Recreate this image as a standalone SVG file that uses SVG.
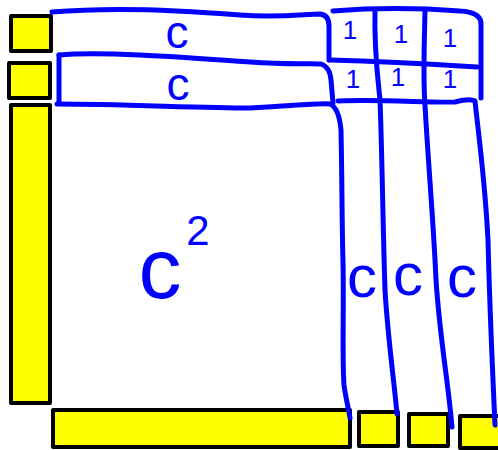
<svg xmlns="http://www.w3.org/2000/svg" width="498" height="450" viewBox="0 0 498 450">
<style>
.box{fill:#ffff00;stroke:#000;stroke-width:4;stroke-linejoin:round}
.ln{fill:none;stroke:#0000ff;stroke-width:5;stroke-linecap:round;stroke-linejoin:round}
.t{fill:#0000ff;font-family:"Liberation Sans",Arial,sans-serif;text-anchor:middle}
</style>
<rect width="498" height="450" fill="#fff"/>
<g id="sq-left-1"><rect class="box" x="11" y="16" width="40" height="35"/></g>
<g id="sq-left-2"><rect class="box" x="9" y="63" width="41" height="35"/></g>
<g id="bar-left"><rect class="box" x="11" y="105" width="39" height="298"/></g>
<g id="bar-bottom"><rect class="box" x="53" y="410" width="297" height="37"/></g>
<g id="sq-bottom-1"><rect class="box" x="359" y="412" width="39" height="34"/></g>
<g id="sq-bottom-2"><rect class="box" x="409" y="414" width="39" height="32"/></g>
<g id="sq-bottom-3"><rect class="box" x="460" y="416" width="40" height="32"/></g>
<g id="connectors">
<path class="ln" d="M52,12 C110,7 180,10 240,15 C280,18 305,14 320,14 Q329,15 329,26 L329,60"/>
<path class="ln" d="M59,55 C100,51 180,57 250,62 C290,65 312,63 321,64 Q330,67 331,80 L333,103"/>
<path class="ln" d="M59,55 L59,103"/>
<path class="ln" d="M57,104 C120,104 200,108 250,108 C290,106 318,103 330,104 Q339,108 341,130 C342,175 342,230 343,262 C344,300 342,360 344,385 C346,400 349,410 350,418"/>
<path class="ln" d="M333,11 C370,8 420,8 460,11 Q481,12 481,24 L481,98"/>
<path class="ln" d="M330,60 C370,61 430,64 477,67"/>
<path class="ln" d="M375,10 C374,50 378,80 380,100 C382,150 383,230 385,290 C388,340 394,380 397,414"/>
<path class="ln" d="M425,12 C424,50 423,80 425,105 C428,160 434,230 436,280 C440,340 448,380 452,427"/>
<path class="ln" d="M338,101 C380,99 430,103 455,102 Q470,98 475,101 C478,130 485,180 488,240 C490,320 493,380 495,425"/>
</g>
<g id="labels">
<text class="t" x="177" y="48" font-size="46">c</text>
<text class="t" x="178" y="100" font-size="46">c</text>
<text class="t"><tspan x="160" y="298" font-size="86">c</tspan><tspan x="198" y="245" font-size="42">2</tspan></text>
<text class="t" x="362" y="297" font-size="60">c</text>
<text class="t" x="408" y="295" font-size="60">c</text>
<text class="t" x="462" y="297" font-size="60">c</text>
<text class="t" x="350" y="39" font-size="26">1</text>
<text class="t" x="401" y="43" font-size="26">1</text>
<text class="t" x="450" y="47" font-size="26">1</text>
<text class="t" x="353" y="88" font-size="26">1</text>
<text class="t" x="398" y="86" font-size="26">1</text>
<text class="t" x="450" y="88" font-size="26">1</text>
</g>
</svg>
